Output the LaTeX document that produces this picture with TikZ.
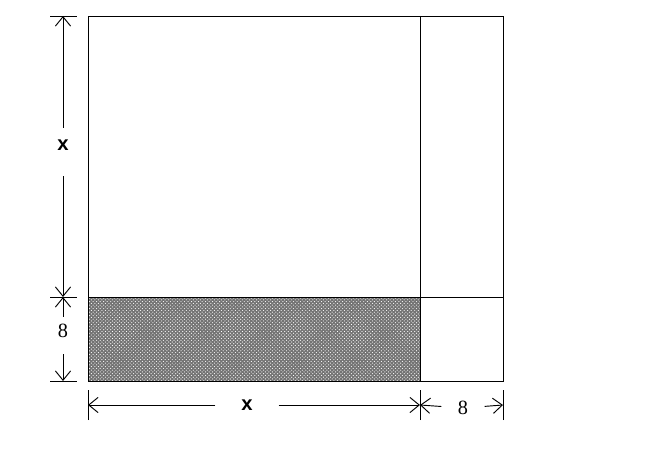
\documentclass[tikz,border=0pt]{standalone}
\usepackage{fontspec}
\setmainfont{Liberation Serif}
\setsansfont{Liberation Sans}
\usetikzlibrary{arrows.meta,patterns}
\tikzset{dim/.style={line width=.8pt,-{Straight Barb[length=8pt,width=13pt]}},
  tick/.style={line width=.8pt},
  lbl/.style={inner sep=0pt,font=\sffamily\bfseries\LARGE},
  num/.style={inner sep=0pt,font=\LARGE}}
\begin{document}
\begin{tikzpicture}[x=.03cm,y=-.03cm]
\useasboundingbox (0,0) rectangle (650,451);
\fill[black!55] (88,297) rectangle (420,381);
\fill[pattern=crosshatch dots,pattern color=white] (88,297) rectangle (420,381);
\draw[thick] (88,16) rectangle (503,381);
\draw[thick] (420,16)--(420,381);
\draw[thick] (88,297)--(503,297);
\coordinate (a1) at (63,16);
\coordinate (a2) at (63,297);
\coordinate (a3) at (63,381);
\coordinate (b1) at (88,405);
\coordinate (b2) at (420,405);
\coordinate (b3) at (503,405);
\foreach \p in {a1,a2,a3}{
\draw[tick] ([xshift=-11]\p)--([xshift=12]\p);
}
\foreach \p in {b1,b2,b3}{
\draw[tick] ([yshift=-13]\p)--([yshift=13]\p);
}
\node[lbl] (x1) at (63,145) {x};
\node[lbl] (x2) at (247,405) {x};
\node[num] (e1) at (63,331) {8};
\node[num] (e2) at (463,408) {8};
\draw[dim,shorten <=10pt] (x1)--(a1);
\draw[dim,shorten <=22pt] (x1)--(a2);
\draw[dim,shorten <=6pt] (e1)--(a2);
\draw[dim,shorten <=14pt] (e1)--(a3);
\draw[dim,shorten <=22pt] (x2)--(b1);
\draw[dim,shorten <=22pt] (x2)--(b2);
\draw[dim,shorten <=14pt] (e2)--(b2);
\draw[dim,shorten <=14pt] (e2)--(b3);
\end{tikzpicture}
\end{document}
